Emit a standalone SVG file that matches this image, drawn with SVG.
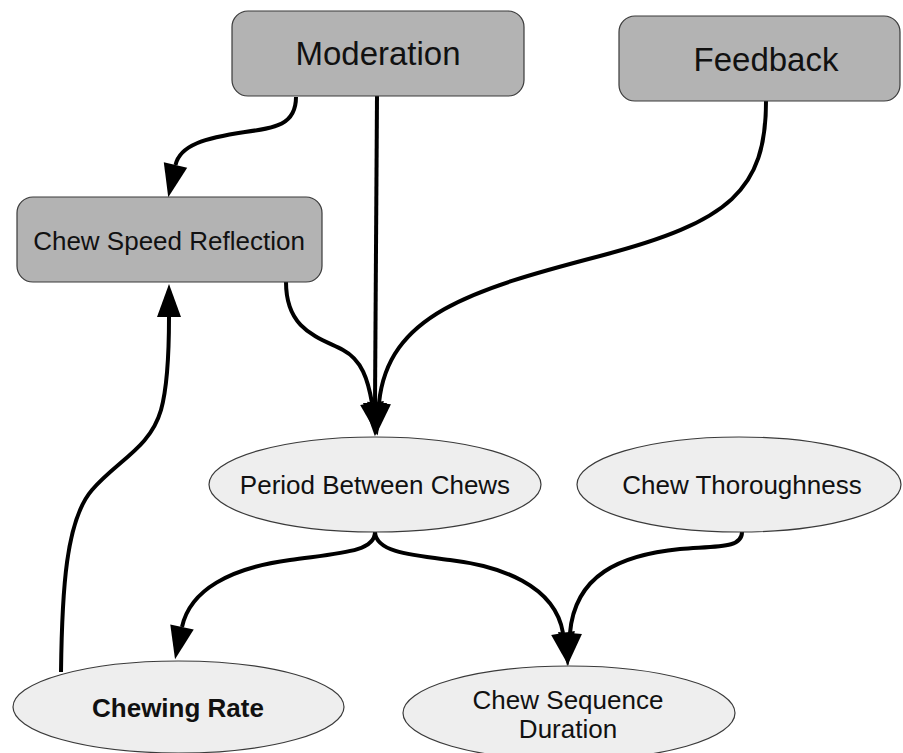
<svg xmlns="http://www.w3.org/2000/svg" width="903" height="753" viewBox="0 0 903 753">
  <defs>
    <style>
      .box { fill: #b3b3b3; stroke: #3a3a3a; stroke-width: 1.2; }
      .oval { fill: #eeeeee; stroke: #3a3a3a; stroke-width: 1.2; }
      .label { font-family: "Liberation Sans", Arial, sans-serif; fill: #111111; text-anchor: middle; }
      .big { font-size: 33px; }
      .mid { font-size: 26px; }
      .bold { font-weight: bold; }
      .edge { fill: none; stroke: #000000; stroke-width: 4; stroke-linecap: butt; marker-end: url(#head); }
    </style>
    <!-- filled arrowhead, starts at the path end and points along its tangent -->
    <marker id="head" markerUnits="userSpaceOnUse" markerWidth="36" markerHeight="26" refX="0" refY="12" orient="auto" overflow="visible">
      <path d="M0,0 L33,12 L0,24 z" fill="#000000"/>
    </marker>
  </defs>

  <rect width="903" height="753" fill="#ffffff"/>

  <g id="connectors">
    <!-- Moderation -> Chew Speed Reflection -->
    <path class="edge" d="M 296 97 C 296 125, 275 128, 245 132 C 205 138, 180 145, 175.5 165"/>
    <!-- Moderation -> Period Between Chews -->
    <path class="edge" d="M 377 96 L 375 403"/>
    <!-- Chew Speed Reflection -> Period Between Chews -->
    <path class="edge" d="M 286 282 C 286 330, 318 337, 343 350 C 362 360, 368 380, 372 403"/>
    <!-- Feedback -> Period Between Chews -->
    <path class="edge" d="M 766 101 C 766 190, 730 222, 600 256 C 470 290, 388 315, 379 403"/>
    <!-- Chewing Rate -> Chew Speed Reflection -->
    <path class="edge" d="M 61 672 C 62 590, 66 520, 92 490 C 118 460, 150 448, 161 410 C 168 385, 169 345, 169 317"/>
    <!-- Period Between Chews -> Chewing Rate -->
    <path class="edge" d="M 375 532 C 375 552, 340 553, 290 560 C 230 568, 190 590, 182 627"/>
    <!-- Period Between Chews -> Chew Sequence Duration -->
    <path class="edge" d="M 375 532 C 376 552, 410 555, 450 560 C 500 566, 555 585, 563 633"/>
    <!-- Chew Thoroughness -> Chew Sequence Duration -->
    <path class="edge" d="M 742 532 C 742 548, 720 546, 680 549 C 620 555, 575 575, 570 633"/>
  </g>

  <g id="moderation">
    <rect class="box" x="232" y="11" width="292" height="85" rx="16" ry="16"/>
    <text class="label big" x="378" y="65">Moderation</text>
  </g>

  <g id="feedback">
    <rect class="box" x="619" y="16" width="281" height="85" rx="16" ry="16"/>
    <text class="label big" x="766" y="71">Feedback</text>
  </g>

  <g id="chew-speed-reflection">
    <rect class="box" x="17" y="197" width="305" height="85" rx="16" ry="16"/>
    <text class="label mid" x="169" y="250">Chew Speed Reflection</text>
  </g>

  <g id="period-between-chews">
    <ellipse class="oval" cx="375" cy="484.5" rx="166" ry="47.5"/>
    <text class="label mid" x="375" y="494">Period Between Chews</text>
  </g>

  <g id="chew-thoroughness">
    <ellipse class="oval" cx="739" cy="484.5" rx="162" ry="47.5"/>
    <text class="label mid" x="742" y="494">Chew Thoroughness</text>
  </g>

  <g id="chewing-rate">
    <ellipse class="oval" cx="178.5" cy="707" rx="165.5" ry="46"/>
    <text class="label mid bold" x="178" y="717">Chewing Rate</text>
  </g>

  <g id="chew-sequence-duration">
    <ellipse class="oval" cx="569" cy="713" rx="166" ry="47"/>
    <text class="label mid" x="568" y="709">Chew Sequence</text>
    <text class="label mid" x="568" y="738">Duration</text>
  </g>
</svg>
